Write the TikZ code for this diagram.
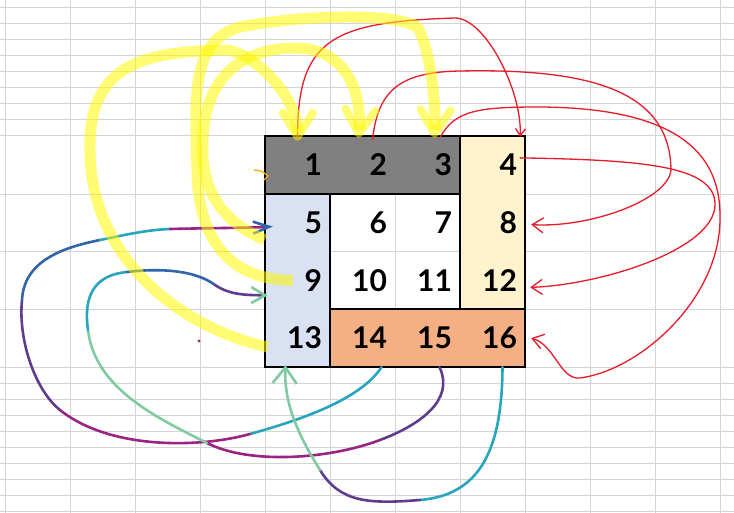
\documentclass[tikz,border=0pt]{standalone}
\usepackage{fontspec}
\setmainfont{Lato}
\usetikzlibrary{arrows.meta,backgrounds}

\definecolor{gridgray}{RGB}{212,212,212}
\definecolor{headgray}{RGB}{128,128,128}
\definecolor{cornsilk}{RGB}{255,242,204}
\definecolor{paleblue}{RGB}{217,225,242}
\definecolor{apricot}{RGB}{244,176,132}
\definecolor{penred}{RGB}{230,28,42}
\definecolor{hlyellow}{RGB}{255,248,0}
\definecolor{crgreen}{RGB}{130,202,162}
\definecolor{crteal}{RGB}{40,165,190}
\definecolor{crblue}{RGB}{50,100,170}
\definecolor{crpurple}{RGB}{95,60,140}
\definecolor{crmagenta}{RGB}{155,35,130}
\definecolor{tickorange}{RGB}{250,170,0}

\begin{document}
\begin{tikzpicture}[
    x=1pt, y=-1pt,
    gridline/.style={draw=gridgray, line width=0.9pt},
    cell/.style={minimum width=65pt, minimum height=57.75pt, text width=49pt, align=right,
        inner xsep=8pt, inner ysep=0pt, font=\fontsize{30}{30}\selectfont\bfseries},
    border/.style={draw=black, line width=2pt},
    redpen/.style={draw=penred, line width=1.3pt, line cap=round,
        -{Straight Barb[length=11pt,width=15pt]}},
    marker/.style={draw=hlyellow, draw opacity=0.55, line width=11pt,
        -{Straight Barb[round,length=24pt,width=30pt,line width=8pt]}},
    crayon/.style={line width=2.6pt, line cap=round}
]
    \useasboundingbox (0,0) rectangle (734,513);

    % table cells
    \foreach \r in {0,...,3}
      \foreach \c in {1,...,4}{
        \pgfmathtruncatemacro{\n}{4*\r+\c}
        \node[cell] (c\n) at ({232.5+65*\c},{164.875+57.75*\r}) {\n};
      }

    % sheet and fills
    \begin{scope}[on background layer]
      \fill[white] (0,0) rectangle (734,513);
      \foreach \x in {5,70,...,720} \draw[gridline] (\x,0) -- (\x,513);
      \foreach \y in {7,23,...,135} \draw[gridline] (0,\y) -- (734,\y);
      \foreach \y in {194,251,309,367} \draw[gridline] (0,\y) -- (734,\y);
      \foreach \y in {383,399,...,511} \draw[gridline] (0,\y) -- (734,\y);
      \fill[headgray] (c1.north west) rectangle (c3.south east);
      \fill[cornsilk] (c4.north west) rectangle (c12.south east);
      \fill[paleblue] (c5.north west) rectangle (c13.south east);
      \fill[apricot] (c14.north west) rectangle (c16.south east);
    \end{scope}

    \draw[border] (c1.north west) rectangle (c16.south east);
    \draw[border] (c5.north west) -- (c7.north east)
                  (c4.north west) -- (c12.south west)
                  (c6.north west) -- (c14.south west)
                  (c14.north west) -- (c16.north east);

    % red pen
    \draw[redpen, -{Straight Barb[length=7pt,width=10pt]}] ([yshift=-4pt]c1.north)
        .. controls (297,40) and (330,22) .. (455,18)
        .. controls (485,18) and (522,90) .. ([xshift=-5pt,yshift=-1pt]c4.north east);
    \draw[redpen] ([xshift=10pt,yshift=-4pt]c2.north)
        .. controls (378,90) and (400,72) .. (460,71)
        .. controls (600,68) and (670,95) .. (671,170)
        .. controls (668,200) and (590,228) .. ([xshift=6pt,yshift=-2pt]c8.east);
    \draw[redpen] ([xshift=13pt,yshift=-1pt]c3.north)
        .. controls (455,110) and (480,107) .. (540,107)
        .. controls (700,108) and (721,170) .. (720,220)
        .. controls (719,300) and (640,370) .. (580,378)
        .. controls (560,380) and (555,345) .. ([xshift=6pt]c16.east);
    \draw[redpen] ([xshift=-5pt,yshift=7pt]c4.east)
        .. controls (640,160) and (716,165) .. (715,205)
        .. controls (714,250) and (600,285) .. ([xshift=5pt,yshift=-7pt]c12.east);

    % crayon loops
    \coordinate (m1a) at (250,434);
    \coordinate (m1b) at (60,410);
    \coordinate (m1c) at (22,300);
    \coordinate (m1d) at (100,240);
    \coordinate (m1e) at (170,229);
    \draw[crayon, crteal] ([xshift=19pt]c14.south) .. controls (360,400) and (300,420) .. (m1a);
    \draw[crayon, crmagenta] (m1a) .. controls (200,448) and (110,450) .. (m1b);
    \draw[crayon, crpurple] (m1b) .. controls (35,390) and (18,340) .. (m1c);
    \draw[crayon, crblue] (m1c) .. controls (24,262) and (60,248) .. (m1d);
    \draw[crayon, crteal] (m1d) .. controls (125,235) and (145,230) .. (m1e);
    \draw[crayon, crmagenta, -{Straight Barb[length=16pt,width=12pt,color=crblue]}]
        (m1e) .. controls (210,228) and (245,228) .. ([xshift=8pt,yshift=-4pt]c5.west);

    \coordinate (m2a) at (380,440);
    \coordinate (m2b) at (207,443);
    \coordinate (m2c) at (88,330);
    \coordinate (m2d) at (127,272);
    \coordinate (m2e) at (215,285);
    \draw[crayon, crpurple] ([xshift=12pt]c15.south) .. controls (455,400) and (420,425) .. (m2a);
    \draw[crayon, crmagenta] (m2a) .. controls (330,459) and (250,465) .. (m2b);
    \draw[crayon, crgreen] (m2b) .. controls (160,419) and (95,390) .. (m2c);
    \draw[crayon, crteal] (m2c) .. controls (83,295) and (95,275) .. (m2d);
    \draw[crayon, crblue] (m2d) .. controls (160,268) and (195,270) .. (m2e);
    \draw[crayon, crpurple, -{Straight Barb[length=14pt,width=16pt,color=crgreen]}]
        (m2e) .. controls (230,295) and (245,295) .. ([xshift=3pt,yshift=-15pt]c9.west);

    \coordinate (m3a) at (420,500);
    \coordinate (m3b) at (320,470);
    \draw[crayon, crteal] ([xshift=10pt]c16.south) .. controls (502,450) and (480,495) .. (m3a);
    \draw[crayon, crpurple] (m3a) .. controls (370,504) and (340,503) .. (m3b);
    \draw[crayon, crgreen, -{Straight Barb[length=16pt,width=24pt]}]
        (m3b) .. controls (295,430) and (284,400) .. ([xshift=-12pt,yshift=2pt]c13.south);

    \fill[crmagenta] (199,341) circle (1.6pt);
    \draw[tickorange, line width=1.3pt, line cap=round] (254,170) .. controls (262,171) .. (268,176) -- (264,180);

    % highlighter
    \draw[marker] ([xshift=3pt,yshift=-9pt]c13.west)
        .. controls (170,325) and (90,250) .. (90,150)
        .. controls (88,60) and (150,52) .. (225,50)
        .. controls (250,50) and (298,95) .. ([yshift=-5pt]c1.north);
    \draw[marker] ([xshift=28pt]c9.west)
        .. controls (230,280) and (198,240) .. (197,170)
        .. controls (195,100) and (190,40) .. (240,27)
        .. controls (300,15) and (400,12) .. (418,28)
        .. controls (430,50) and (436,100) .. ([xshift=7pt,yshift=-2pt]c3.north);
    \draw[marker] ([yshift=-17pt]c5.west)
        .. controls (222,222) and (200,190) .. (203,140)
        .. controls (205,70) and (250,48) .. (295,48)
        .. controls (345,48) and (362,90) .. ([xshift=-4pt,yshift=-2pt]c2.north);
\end{tikzpicture}
\end{document}
